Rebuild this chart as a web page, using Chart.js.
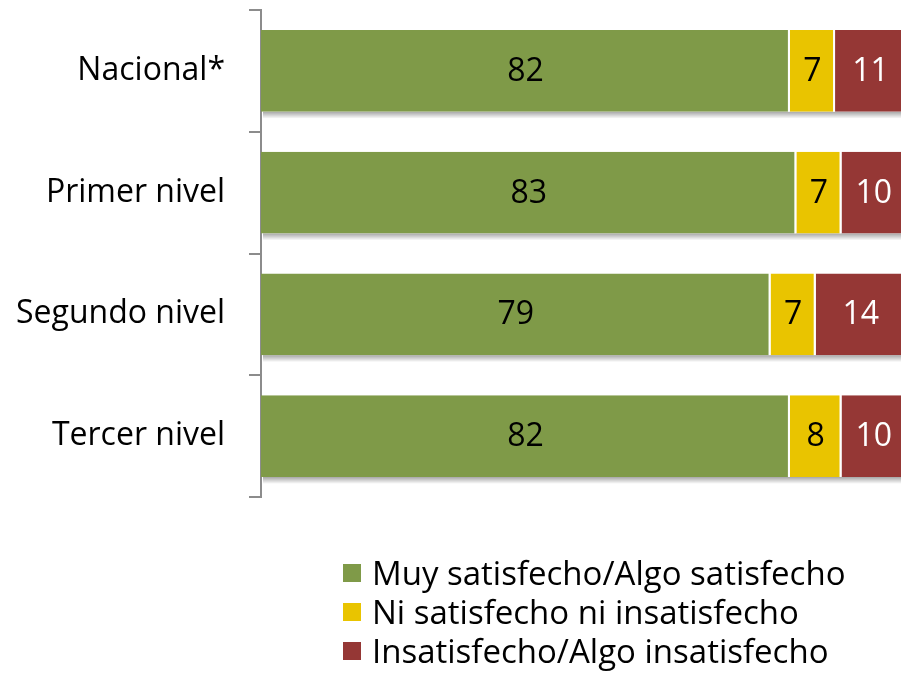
<!DOCTYPE html>
<html>
<head>
<meta charset="utf-8">
<script src="https://cdn.jsdelivr.net/npm/chart.js@4"></script>
<style>
  html, body { margin: 0; padding: 0; overflow: hidden; background: #fff; width: 901px; height: 674px; }
  #wrap { position: relative; width: 906px; height: 674px; }
  canvas { position: absolute; left: 0; top: 0; }
  #legend { position: absolute; left: 343px; top: 553px; font-family: "Open Sans", sans-serif; font-size: 33px; color: #000; }
  .item { height: 39px; display: flex; align-items: center; white-space: nowrap; }
  .sw { width: 18px; height: 18px; margin-right: 11px; flex: none; }
</style>
</head>
<body>
<div id="wrap">
  <canvas id="c" width="906" height="674"></canvas>
  <div id="legend"></div>
</div>
<script>
const categories = ["Nacional*", "Primer nivel", "Segundo nivel", "Tercer nivel"];
const seriesNames = ["Muy satisfecho/Algo satisfecho", "Ni satisfecho ni insatisfecho", "Insatisfecho/Algo insatisfecho"];
const satisfied = [82, 83, 79, 82];
const neutral = [7, 7, 7, 8];
const unsatisfied = [11, 10, 14, 10];
const colors = ["#7f9a48", "#e9c400", "#953735"];
const labelColors = ["#000000", "#000000", "#ffffff"];

const FONT = '"Open Sans", sans-serif';

const valueLabels = {
  id: 'valueLabels',
  afterDatasetsDraw(chart) {
    const ctx = chart.ctx;
    ctx.save();
    ctx.font = '32px ' + FONT;
    ctx.textAlign = 'center';
    ctx.textBaseline = 'middle';
    chart.data.datasets.forEach((ds, i) => {
      const meta = chart.getDatasetMeta(i);
      meta.data.forEach((bar, j) => {
        const x = (bar.x + bar.base) / 2;
        ctx.fillStyle = labelColors[i];
        ctx.fillText(String(ds.data[j]), x, bar.y + 1);
      });
    });
    ctx.restore();
  }
};

// soft grey shadow under each stacked bar, derived from the bar elements
const barShadow = {
  id: 'barShadow',
  beforeDatasetsDraw(chart) {
    const ctx = chart.ctx;
    const first = chart.getDatasetMeta(0).data;
    const last = chart.getDatasetMeta(chart.data.datasets.length - 1).data;
    ctx.save();
    first.forEach((b, j) => {
      const e = last[j];
      const bottom = b.y + b.height / 2;
      const g = ctx.createLinearGradient(0, bottom, 0, bottom + 7);
      g.addColorStop(0, 'rgba(0,0,0,0.35)');
      g.addColorStop(1, 'rgba(0,0,0,0)');
      ctx.fillStyle = g;
      ctx.fillRect(b.base + 2, bottom, e.x - b.base, 7);
    });
    ctx.restore();
  }
};

const datasets = [satisfied, neutral, unsatisfied].map((d, i) => ({
  label: seriesNames[i],
  data: d,
  backgroundColor: colors[i],
  borderColor: '#ffffff',
  borderWidth: { left: 0, right: 2, top: 0, bottom: 0 },
  borderSkipped: false,
  barPercentage: 0.67,
  categoryPercentage: 1.0
}));

new Chart(document.getElementById('c'), {
  type: 'bar',
  data: { labels: categories, datasets },
  options: {
    indexAxis: 'y',
    responsive: false,
    animation: false,
    devicePixelRatio: 1,
    layout: { padding: { top: 10, bottom: 177, left: 0, right: 0 } },
    plugins: { legend: { display: false }, tooltip: { enabled: false } },
    scales: {
      x: { stacked: true, display: false, min: 0, max: 100 },
      y: {
        stacked: true,
        afterFit(scale) { scale.width = 261; scale.paddingTop = 0; scale.paddingBottom = 0; },
        grid: { drawOnChartArea: false, drawTicks: true, tickLength: 12, color: '#8c8c8c', lineWidth: 2, offset: true },
        border: { display: true, color: '#8c8c8c', width: 2 },
        ticks: { color: '#000', font: { family: FONT, size: 32 }, padding: 24 }
      }
    }
  },
  plugins: [barShadow, valueLabels]
});

const legend = document.getElementById('legend');
seriesNames.forEach((n, i) => {
  const it = document.createElement('div');
  it.className = 'item';
  const sw = document.createElement('span');
  sw.className = 'sw';
  sw.style.background = colors[i];
  const t = document.createElement('span');
  t.textContent = n;
  it.appendChild(sw); it.appendChild(t);
  legend.appendChild(it);
});
</script>
</body>
</html>
